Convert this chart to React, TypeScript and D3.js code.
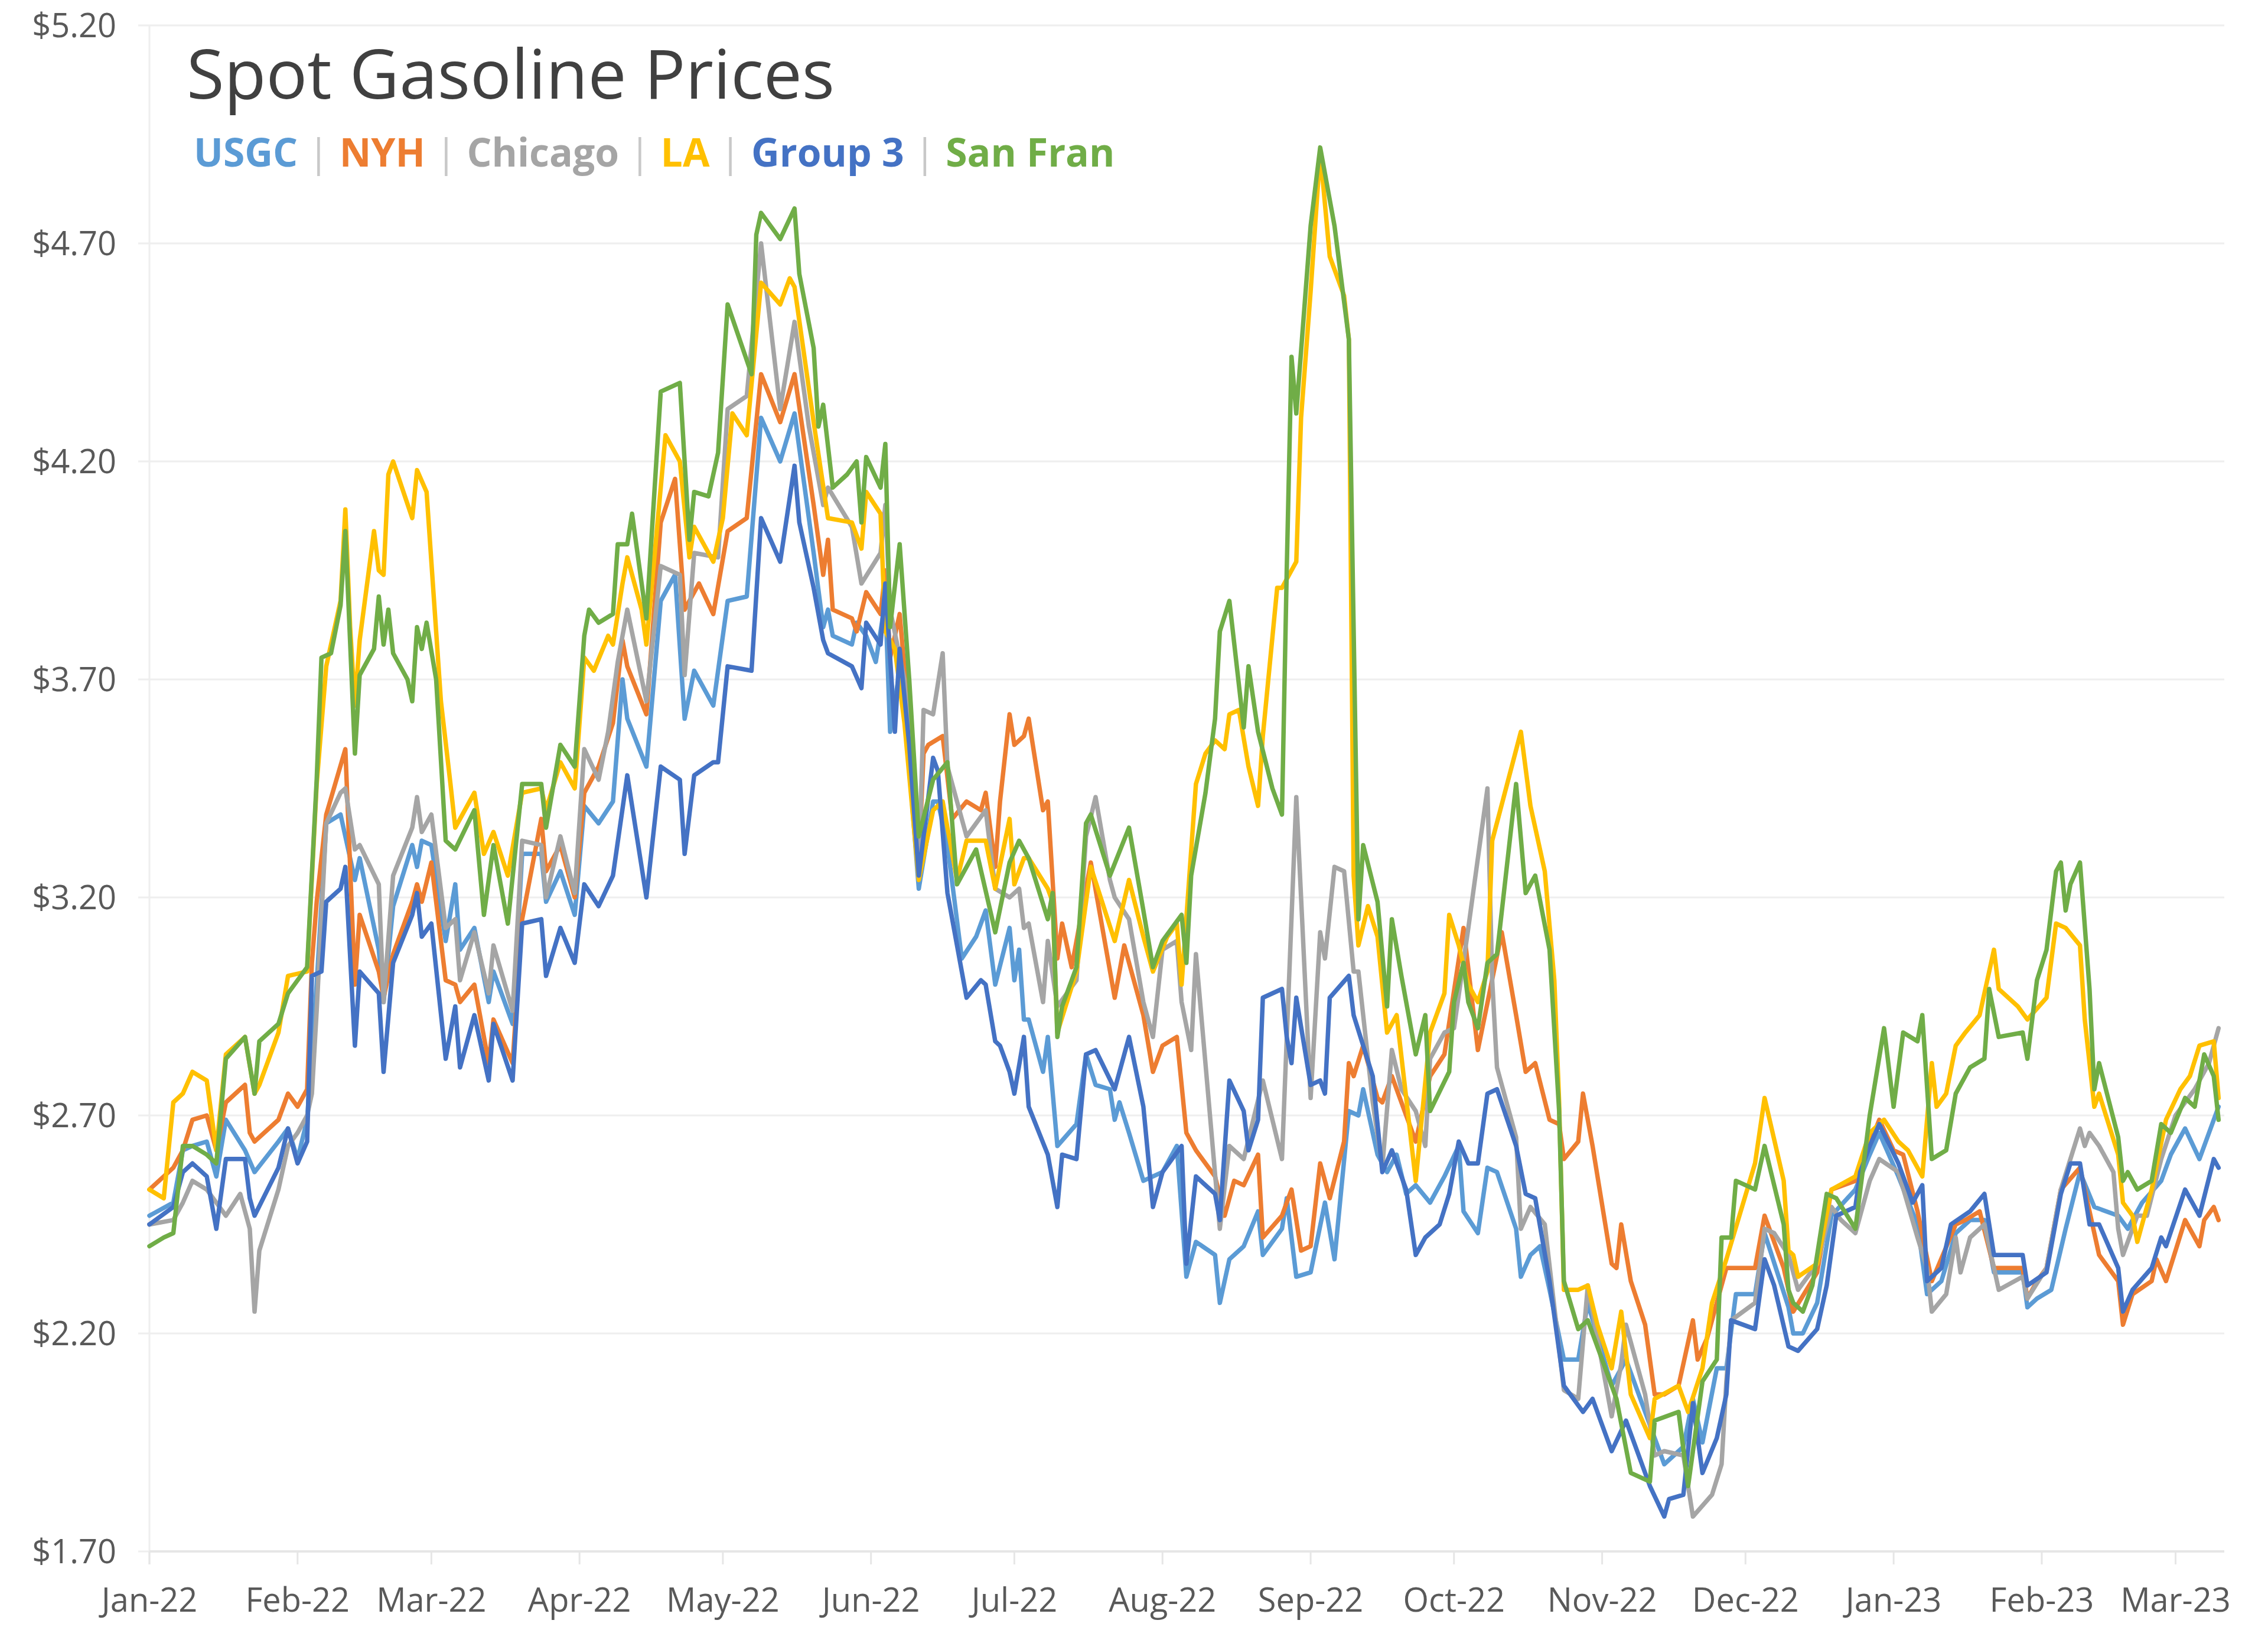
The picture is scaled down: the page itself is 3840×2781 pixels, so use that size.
import React from "react";
import * as d3 from "d3";

// Series: [days since 2022-01-01, price $/gal]
const usgc: [number, number][] = [[0,2.47],[5,2.50],[7,2.62],[9,2.63],[12,2.64],[14,2.56],[16,2.69],[20,2.62],[22,2.57],[27,2.64],[29,2.67],[31,2.60],[33,2.69],[34,2.85],[35,3.00],[37,3.37],[40,3.39],[43,3.24],[44,3.29],[48,3.08],[49,2.96],[51,3.18],[55,3.32],[56,3.27],[57,3.33],[59,3.32],[62,3.10],[64,3.23],[65,3.08],[68,3.13],[71,2.96],[72,3.03],[76,2.91],[78,3.30],[82,3.30],[83,3.19],[86,3.26],[89,3.16],[91,3.41],[94,3.37],[97,3.42],[99,3.70],[100,3.61],[104,3.50],[107,3.88],[110,3.94],[112,3.61],[114,3.72],[118,3.64],[121,3.88],[125,3.89],[128,4.30],[132,4.20],[135,4.31],[139,3.99],[141,3.82],[142,3.86],[143,3.80],[147,3.78],[148,3.83],[150,3.80],[152,3.74],[154,3.88],[155,3.58],[157,3.72],[159,3.50],[161,3.22],[164,3.42],[165,3.42],[167,3.32],[170,3.06],[173,3.11],[175,3.17],[177,3.00],[180,3.13],[181,3.01],[182,3.08],[183,2.92],[184,2.92],[187,2.80],[188,2.88],[190,2.63],[194,2.68],[196,2.84],[198,2.77],[201,2.76],[202,2.69],[203,2.73],[205,2.66],[208,2.55],[212,2.57],[215,2.63],[217,2.33],[219,2.41],[223,2.38],[224,2.27],[226,2.37],[229,2.40],[232,2.48],[233,2.38],[237,2.44],[238,2.51],[240,2.33],[243,2.34],[246,2.50],[248,2.37],[251,2.71],[253,2.70],[254,2.76],[257,2.61],[259,2.57],[261,2.61],[263,2.52],[265,2.54],[268,2.50],[271,2.56],[274,2.63],[275,2.48],[278,2.43],[280,2.58],[282,2.57],[286,2.44],[287,2.33],[289,2.38],[291,2.40],[293,2.30],[296,2.14],[299,2.14],[301,2.27],[306,2.08],[309,2.14],[314,1.99],[317,1.90],[321,1.94],[323,2.05],[325,1.95],[328,2.12],[330,2.12],[332,2.29],[336,2.29],[338,2.43],[343,2.26],[344,2.20],[346,2.20],[349,2.27],[352,2.47],[357,2.53],[360,2.61],[362,2.66],[366,2.56],[370,2.45],[372,2.29],[375,2.32],[378,2.43],[381,2.46],[384,2.46],[386,2.34],[392,2.34],[393,2.26],[395,2.28],[398,2.30],[401,2.44],[404,2.57],[407,2.49],[412,2.47],[414,2.44],[417,2.50],[421,2.55],[423,2.61],[426,2.67],[429,2.60],[431,2.66],[433,2.72]];

const nyh: [number, number][] = [[0,2.53],[5,2.58],[7,2.62],[9,2.69],[12,2.70],[14,2.62],[16,2.73],[20,2.77],[21,2.66],[22,2.64],[27,2.69],[29,2.75],[31,2.72],[33,2.76],[34,3.05],[35,3.19],[37,3.39],[41,3.54],[43,3.00],[44,3.16],[48,3.03],[49,2.97],[51,3.07],[55,3.19],[56,3.23],[57,3.19],[59,3.28],[62,3.01],[64,3.00],[65,2.96],[68,3.00],[71,2.82],[72,2.92],[76,2.82],[78,3.15],[82,3.38],[83,3.26],[86,3.32],[89,3.20],[91,3.44],[94,3.50],[97,3.60],[99,3.79],[100,3.73],[104,3.62],[107,4.06],[110,4.16],[112,3.86],[115,3.92],[118,3.85],[121,4.04],[125,4.07],[128,4.40],[132,4.29],[135,4.40],[139,4.10],[141,3.94],[142,4.02],[143,3.86],[147,3.84],[148,3.81],[150,3.90],[153,3.85],[154,3.95],[155,3.75],[157,3.85],[159,3.60],[161,3.28],[162,3.53],[163,3.55],[166,3.57],[168,3.38],[171,3.42],[174,3.40],[175,3.44],[177,3.27],[178,3.42],[180,3.62],[181,3.55],[183,3.57],[184,3.61],[187,3.40],[188,3.42],[190,3.06],[191,3.14],[193,3.04],[197,3.28],[202,2.97],[204,3.09],[208,2.93],[210,2.80],[212,2.86],[215,2.88],[217,2.66],[219,2.62],[223,2.56],[225,2.47],[227,2.55],[229,2.54],[232,2.61],[233,2.42],[237,2.47],[239,2.53],[241,2.39],[243,2.40],[245,2.59],[247,2.51],[250,2.64],[251,2.82],[252,2.79],[254,2.86],[257,2.74],[258,2.73],[260,2.79],[262,2.73],[265,2.64],[268,2.79],[271,2.84],[275,3.13],[278,2.85],[283,3.12],[286,2.93],[288,2.80],[290,2.82],[293,2.69],[295,2.68],[296,2.60],[299,2.64],[300,2.75],[302,2.63],[306,2.36],[307,2.35],[308,2.45],[310,2.32],[313,2.22],[315,2.06],[317,2.06],[320,2.08],[323,2.23],[324,2.14],[326,2.19],[330,2.35],[336,2.35],[338,2.47],[342,2.35],[344,2.25],[349,2.34],[352,2.53],[357,2.55],[362,2.69],[365,2.62],[367,2.61],[370,2.48],[373,2.32],[378,2.45],[380,2.46],[383,2.48],[386,2.35],[392,2.35],[393,2.28],[395,2.32],[397,2.35],[400,2.53],[404,2.58],[406,2.48],[408,2.38],[412,2.32],[413,2.22],[415,2.29],[419,2.32],[420,2.37],[422,2.32],[426,2.46],[429,2.40],[430,2.46],[432,2.49],[433,2.46]];

const chicago: [number, number][] = [[0,2.45],[5,2.46],[7,2.50],[9,2.55],[12,2.53],[14,2.50],[16,2.47],[19,2.52],[21,2.44],[22,2.25],[23,2.39],[27,2.53],[29,2.63],[31,2.66],[33,2.70],[34,2.75],[35,2.94],[37,3.37],[40,3.44],[41,3.45],[43,3.31],[44,3.32],[48,3.23],[49,2.96],[51,3.25],[55,3.36],[56,3.43],[57,3.35],[59,3.39],[62,3.13],[64,3.15],[65,3.01],[68,3.12],[71,2.98],[72,3.09],[76,2.94],[78,3.33],[82,3.32],[83,3.20],[86,3.34],[89,3.21],[91,3.54],[94,3.47],[96,3.58],[98,3.74],[100,3.86],[104,3.65],[107,3.96],[111,3.94],[112,3.71],[114,3.99],[119,3.98],[121,4.32],[125,4.35],[128,4.70],[132,4.32],[135,4.52],[138,4.28],[141,4.10],[142,4.14],[147,4.05],[149,3.92],[153,3.99],[154,4.10],[155,3.86],[158,3.70],[161,3.25],[162,3.63],[164,3.62],[166,3.76],[167,3.50],[171,3.34],[175,3.40],[177,3.22],[180,3.20],[182,3.22],[183,3.13],[184,3.14],[187,2.96],[188,3.10],[190,2.95],[194,3.01],[196,3.34],[198,3.43],[201,3.24],[202,3.20],[205,3.15],[208,2.96],[210,2.88],[212,3.08],[215,3.10],[216,2.96],[218,2.85],[219,3.07],[224,2.44],[226,2.63],[229,2.60],[233,2.78],[237,2.60],[240,3.43],[243,2.74],[245,3.12],[246,3.06],[248,3.27],[250,3.26],[252,3.03],[253,3.03],[256,2.73],[258,2.58],[260,2.85],[262,2.76],[265,2.71],[267,2.63],[268,2.83],[271,2.89],[273,2.90],[276,3.13],[280,3.45],[281,3.01],[282,2.81],[286,2.65],[287,2.44],[289,2.49],[292,2.45],[296,2.07],[299,2.05],[301,2.31],[303,2.19],[306,2.01],[308,2.13],[309,2.22],[313,2.06],[315,1.92],[317,1.93],[321,1.92],[323,1.78],[327,1.83],[329,1.90],[330,2.09],[331,2.23],[336,2.27],[338,2.44],[340,2.43],[343,2.38],[345,2.30],[349,2.36],[352,2.49],[354,2.46],[357,2.43],[360,2.55],[362,2.60],[366,2.57],[370,2.42],[372,2.35],[373,2.25],[376,2.29],[378,2.42],[379,2.34],[381,2.42],[384,2.45],[387,2.30],[392,2.33],[393,2.28],[397,2.35],[400,2.53],[404,2.67],[405,2.63],[406,2.66],[408,2.63],[411,2.57],[412,2.44],[413,2.38],[416,2.47],[418,2.47],[421,2.60],[424,2.70],[428,2.76],[431,2.82],[433,2.90]];

const la: [number, number][] = [[0,2.53],[3,2.51],[5,2.73],[7,2.75],[9,2.80],[12,2.78],[14,2.62],[16,2.84],[20,2.88],[22,2.75],[23,2.77],[27,2.89],[29,3.02],[33,3.03],[35,3.46],[37,3.73],[40,3.88],[41,4.09],[42,3.82],[43,3.64],[44,3.79],[47,4.04],[48,3.95],[49,3.94],[50,4.17],[51,4.20],[55,4.07],[56,4.18],[58,4.13],[61,3.65],[63,3.46],[64,3.36],[68,3.44],[70,3.30],[72,3.35],[75,3.25],[78,3.44],[82,3.45],[83,3.40],[86,3.51],[89,3.45],[91,3.75],[93,3.72],[96,3.80],[97,3.78],[99,3.92],[100,3.98],[103,3.86],[104,3.78],[108,4.26],[111,4.20],[113,3.98],[114,4.05],[118,3.97],[120,4.07],[122,4.31],[125,4.26],[128,4.61],[132,4.56],[134,4.62],[135,4.60],[139,4.29],[142,4.07],[147,4.06],[149,4.00],[150,4.13],[153,4.08],[154,3.81],[156,3.77],[158,3.60],[161,3.24],[164,3.40],[166,3.42],[169,3.24],[171,3.33],[175,3.33],[177,3.22],[180,3.38],[181,3.23],[183,3.29],[184,3.29],[188,3.22],[189,3.19],[190,2.89],[194,3.03],[197,3.27],[202,3.10],[205,3.24],[208,3.11],[210,3.03],[213,3.11],[215,3.14],[216,3.00],[219,3.46],[221,3.53],[223,3.56],[225,3.54],[226,3.62],[228,3.63],[230,3.50],[232,3.41],[233,3.57],[236,3.91],[237,3.91],[240,3.97],[241,4.30],[243,4.59],[245,4.91],[247,4.67],[250,4.58],[251,4.48],[252,3.25],[253,3.09],[255,3.18],[257,3.11],[259,2.89],[261,2.93],[265,2.55],[268,2.89],[271,2.98],[272,3.16],[274,3.09],[276,3.00],[278,2.96],[280,3.03],[281,3.33],[287,3.58],[289,3.41],[292,3.26],[294,3.01],[295,2.73],[296,2.30],[299,2.30],[301,2.31],[303,2.22],[306,2.12],[308,2.25],[310,2.06],[314,1.96],[315,2.05],[320,2.08],[322,2.02],[325,2.12],[327,2.27],[330,2.37],[336,2.59],[338,2.74],[342,2.55],[343,2.39],[344,2.38],[345,2.33],[349,2.36],[352,2.53],[357,2.56],[360,2.66],[363,2.69],[366,2.64],[368,2.62],[371,2.56],[373,2.82],[374,2.72],[376,2.75],[378,2.86],[380,2.89],[383,2.93],[386,3.08],[387,2.99],[391,2.95],[393,2.92],[397,2.97],[399,3.14],[401,3.13],[404,3.09],[405,2.92],[407,2.72],[408,2.75],[412,2.61],[413,2.50],[415,2.47],[416,2.41],[419,2.53],[422,2.69],[425,2.76],[427,2.79],[429,2.86],[432,2.87],[433,2.74]];

const group3: [number, number][] = [[0,2.45],[5,2.49],[7,2.57],[9,2.59],[12,2.56],[14,2.44],[16,2.60],[20,2.60],[21,2.51],[22,2.47],[27,2.58],[29,2.67],[31,2.59],[33,2.64],[34,3.02],[36,3.03],[37,3.19],[40,3.22],[41,3.27],[43,2.86],[44,3.03],[48,2.98],[49,2.80],[51,3.05],[55,3.16],[56,3.21],[57,3.11],[59,3.14],[62,2.83],[64,2.95],[65,2.81],[68,2.93],[71,2.78],[72,2.91],[76,2.78],[78,3.14],[82,3.15],[83,3.02],[86,3.13],[89,3.05],[91,3.23],[94,3.18],[97,3.25],[100,3.48],[104,3.20],[107,3.50],[111,3.47],[112,3.30],[114,3.48],[118,3.51],[119,3.51],[121,3.73],[126,3.72],[128,4.07],[132,3.97],[135,4.19],[136,4.06],[139,3.91],[141,3.79],[142,3.76],[147,3.73],[149,3.68],[150,3.83],[153,3.78],[154,3.92],[156,3.58],[157,3.77],[159,3.55],[161,3.25],[164,3.52],[165,3.49],[167,3.21],[171,2.97],[174,3.01],[175,3.00],[177,2.87],[178,2.86],[180,2.80],[181,2.75],[183,2.88],[184,2.72],[188,2.61],[190,2.49],[191,2.61],[194,2.60],[196,2.84],[198,2.85],[202,2.76],[205,2.88],[208,2.72],[210,2.49],[212,2.57],[216,2.63],[217,2.36],[219,2.56],[223,2.52],[224,2.46],[226,2.78],[229,2.71],[230,2.62],[232,2.69],[233,2.97],[237,2.99],[238,2.88],[239,2.82],[240,2.97],[243,2.77],[245,2.78],[246,2.75],[247,2.97],[251,3.02],[252,2.93],[256,2.79],[258,2.57],[260,2.62],[263,2.53],[265,2.38],[267,2.42],[270,2.45],[272,2.52],[274,2.64],[276,2.59],[278,2.59],[280,2.75],[282,2.76],[286,2.63],[288,2.52],[290,2.51],[293,2.32],[296,2.08],[300,2.02],[302,2.05],[306,1.93],[309,2.00],[314,1.85],[317,1.78],[318,1.82],[321,1.83],[323,2.04],[325,1.88],[328,1.96],[330,2.06],[331,2.23],[336,2.21],[338,2.37],[340,2.31],[343,2.17],[345,2.16],[349,2.21],[351,2.31],[353,2.47],[357,2.49],[358,2.57],[360,2.63],[362,2.68],[366,2.59],[369,2.50],[371,2.54],[372,2.32],[375,2.35],[377,2.45],[381,2.48],[384,2.52],[386,2.38],[392,2.38],[393,2.31],[397,2.34],[400,2.52],[402,2.59],[404,2.59],[406,2.45],[408,2.45],[412,2.35],[413,2.25],[415,2.30],[419,2.35],[421,2.42],[422,2.40],[426,2.53],[429,2.47],[432,2.60],[433,2.58]];

const sanFran: [number, number][] = [[0,2.40],[3,2.42],[5,2.43],[7,2.63],[9,2.63],[12,2.61],[14,2.59],[16,2.83],[20,2.88],[22,2.75],[23,2.87],[27,2.91],[29,2.98],[33,3.04],[35,3.47],[36,3.75],[38,3.76],[40,3.87],[41,4.04],[43,3.53],[44,3.71],[47,3.77],[48,3.89],[49,3.78],[50,3.86],[51,3.76],[54,3.70],[55,3.65],[56,3.82],[57,3.77],[58,3.83],[60,3.70],[62,3.33],[64,3.31],[68,3.40],[70,3.16],[72,3.32],[75,3.14],[78,3.46],[82,3.46],[83,3.36],[86,3.55],[89,3.50],[91,3.80],[92,3.86],[94,3.83],[97,3.85],[98,4.01],[100,4.01],[101,4.08],[104,3.84],[107,4.36],[111,4.38],[113,4.02],[114,4.13],[117,4.12],[119,4.22],[121,4.56],[126,4.40],[127,4.72],[128,4.77],[132,4.71],[135,4.78],[136,4.63],[139,4.46],[140,4.28],[141,4.33],[143,4.14],[146,4.17],[148,4.20],[149,4.06],[150,4.21],[153,4.14],[154,4.24],[155,3.82],[157,4.01],[159,3.70],[161,3.34],[164,3.47],[167,3.51],[169,3.23],[173,3.31],[177,3.12],[180,3.28],[182,3.33],[184,3.29],[188,3.15],[189,3.21],[190,2.88],[191,2.95],[194,3.04],[196,3.37],[197,3.39],[201,3.25],[205,3.36],[208,3.17],[210,3.04],[212,3.10],[216,3.16],[217,3.05],[218,3.25],[221,3.44],[223,3.61],[224,3.81],[226,3.88],[229,3.59],[230,3.73],[232,3.58],[235,3.45],[237,3.39],[238,3.95],[239,4.44],[240,4.31],[243,4.74],[245,4.92],[246,4.86],[248,4.74],[251,4.48],[253,3.15],[254,3.32],[257,3.19],[259,2.95],[260,3.15],[262,3.02],[265,2.84],[267,2.93],[268,2.71],[272,2.80],[273,2.96],[275,3.05],[276,2.96],[278,2.90],[280,3.05],[282,3.07],[286,3.46],[288,3.21],[290,3.25],[293,3.08],[295,2.71],[296,2.32],[299,2.21],[301,2.23],[302,2.20],[307,2.05],[310,1.88],[314,1.86],[315,2.00],[320,2.02],[322,1.85],[325,2.09],[328,2.14],[329,2.42],[331,2.42],[332,2.55],[336,2.53],[337,2.58],[338,2.63],[342,2.45],[343,2.30],[344,2.27],[346,2.25],[348,2.31],[351,2.52],[353,2.51],[357,2.44],[360,2.70],[363,2.90],[365,2.72],[367,2.89],[370,2.87],[371,2.93],[373,2.60],[376,2.62],[378,2.75],[381,2.81],[384,2.83],[385,2.99],[387,2.88],[392,2.89],[393,2.83],[395,3.01],[397,3.08],[399,3.26],[400,3.28],[401,3.17],[402,3.23],[404,3.28],[406,2.99],[407,2.76],[408,2.82],[412,2.65],[413,2.55],[414,2.57],[416,2.53],[419,2.55],[421,2.68],[423,2.66],[426,2.74],[428,2.72],[430,2.84],[432,2.79],[433,2.69]];

const seriesNames = ["USGC", "NYH", "Chicago", "LA", "Group 3", "San Fran"];
const seriesColors = ["#5B9BD5", "#ED7D31", "#A5A5A5", "#FFC000", "#4472C4", "#70AD47"];
const seriesData = [usgc, nyh, chicago, la, group3, sanFran];
const yTicks = [1.7, 2.2, 2.7, 3.2, 3.7, 4.2, 4.7, 5.2];
const title = "Spot Gasoline Prices";

const W = 3840;
const H = 2781;
const START = Date.UTC(2022, 0, 1);
const DAY = 86400000;
const toDate = (d: number) => new Date(START + d * DAY);

export default function App() {
  const x = d3.scaleUtc().domain([toDate(0), toDate(434.2)]).range([253, 3766]);
  const y = d3.scaleLinear().domain([1.7, 5.2]).range([2626, 43]);
  const months = d3.utcMonth.range(toDate(0), toDate(434.2));
  const fmt = d3.utcFormat("%b-%y");
  const line = d3
    .line<[number, number]>()
    .x((d) => x(toDate(d[0])))
    .y((d) => y(d[1]));
  const font = "'Open Sans', 'Noto Sans', sans-serif";

  return (
    <>
      <style>{"body{margin:0;background:#fff}"}</style>
      <svg width={W} height={H} viewBox={`0 0 ${W} ${H}`} style={{ display: "block", background: "#fff" }}>
        {/* gridlines */}
        {yTicks.map((t) => (
          <line key={"g" + t} x1={234} x2={3766} y1={y(t)} y2={y(t)} stroke="#eeeeee" strokeWidth={3} />
        ))}
        {/* vertical axis line */}
        <line x1={253} x2={253} y1={y(5.2)} y2={y(1.7) + 22} stroke="#eeeeee" strokeWidth={3} />
        {/* bottom axis + ticks */}
        <line x1={253} x2={3766} y1={y(1.7)} y2={y(1.7)} stroke="#e6e6e6" strokeWidth={4} />
        {months.map((m) => (
          <line key={"t" + m.getTime()} x1={x(m)} x2={x(m)} y1={y(1.7)} y2={y(1.7) + 22} stroke="#e6e6e6" strokeWidth={3} />
        ))}
        {/* y labels */}
        {yTicks.map((t) => (
          <text key={"yl" + t} x={197} y={y(t)} dy="0.36em" textAnchor="end" fontFamily={font} fontSize={56} fill="#595959">
            {"$" + t.toFixed(2)}
          </text>
        ))}
        {/* x labels */}
        {months.map((m) => (
          <text key={"xl" + m.getTime()} x={x(m)} y={2728} textAnchor="middle" fontFamily={font} fontSize={56} fill="#595959">
            {fmt(m)}
          </text>
        ))}
        {/* lines */}
        {seriesData.map((s, i) => (
          <path key={seriesNames[i]} d={line(s) || ""} fill="none" stroke={seriesColors[i]} strokeWidth={7.5} strokeLinejoin="round" strokeLinecap="round" />
        ))}
        {/* title */}
        <text x={316} y={167} fontFamily={font} fontSize={116} fill="#404040">
          {title}
        </text>
        {/* legend */}
        <text x={328} y={282} fontFamily={font} fontSize={66} fontWeight="bold" xmlSpace="preserve">
          {seriesNames.map((n, i) => (
            <React.Fragment key={n}>
              {i > 0 && (
                <tspan fill="#c8c8c8" fontWeight="normal">{" | "}</tspan>
              )}
              <tspan fill={seriesColors[i]}>{n}</tspan>
            </React.Fragment>
          ))}
        </text>
      </svg>
    </>
  );
}
